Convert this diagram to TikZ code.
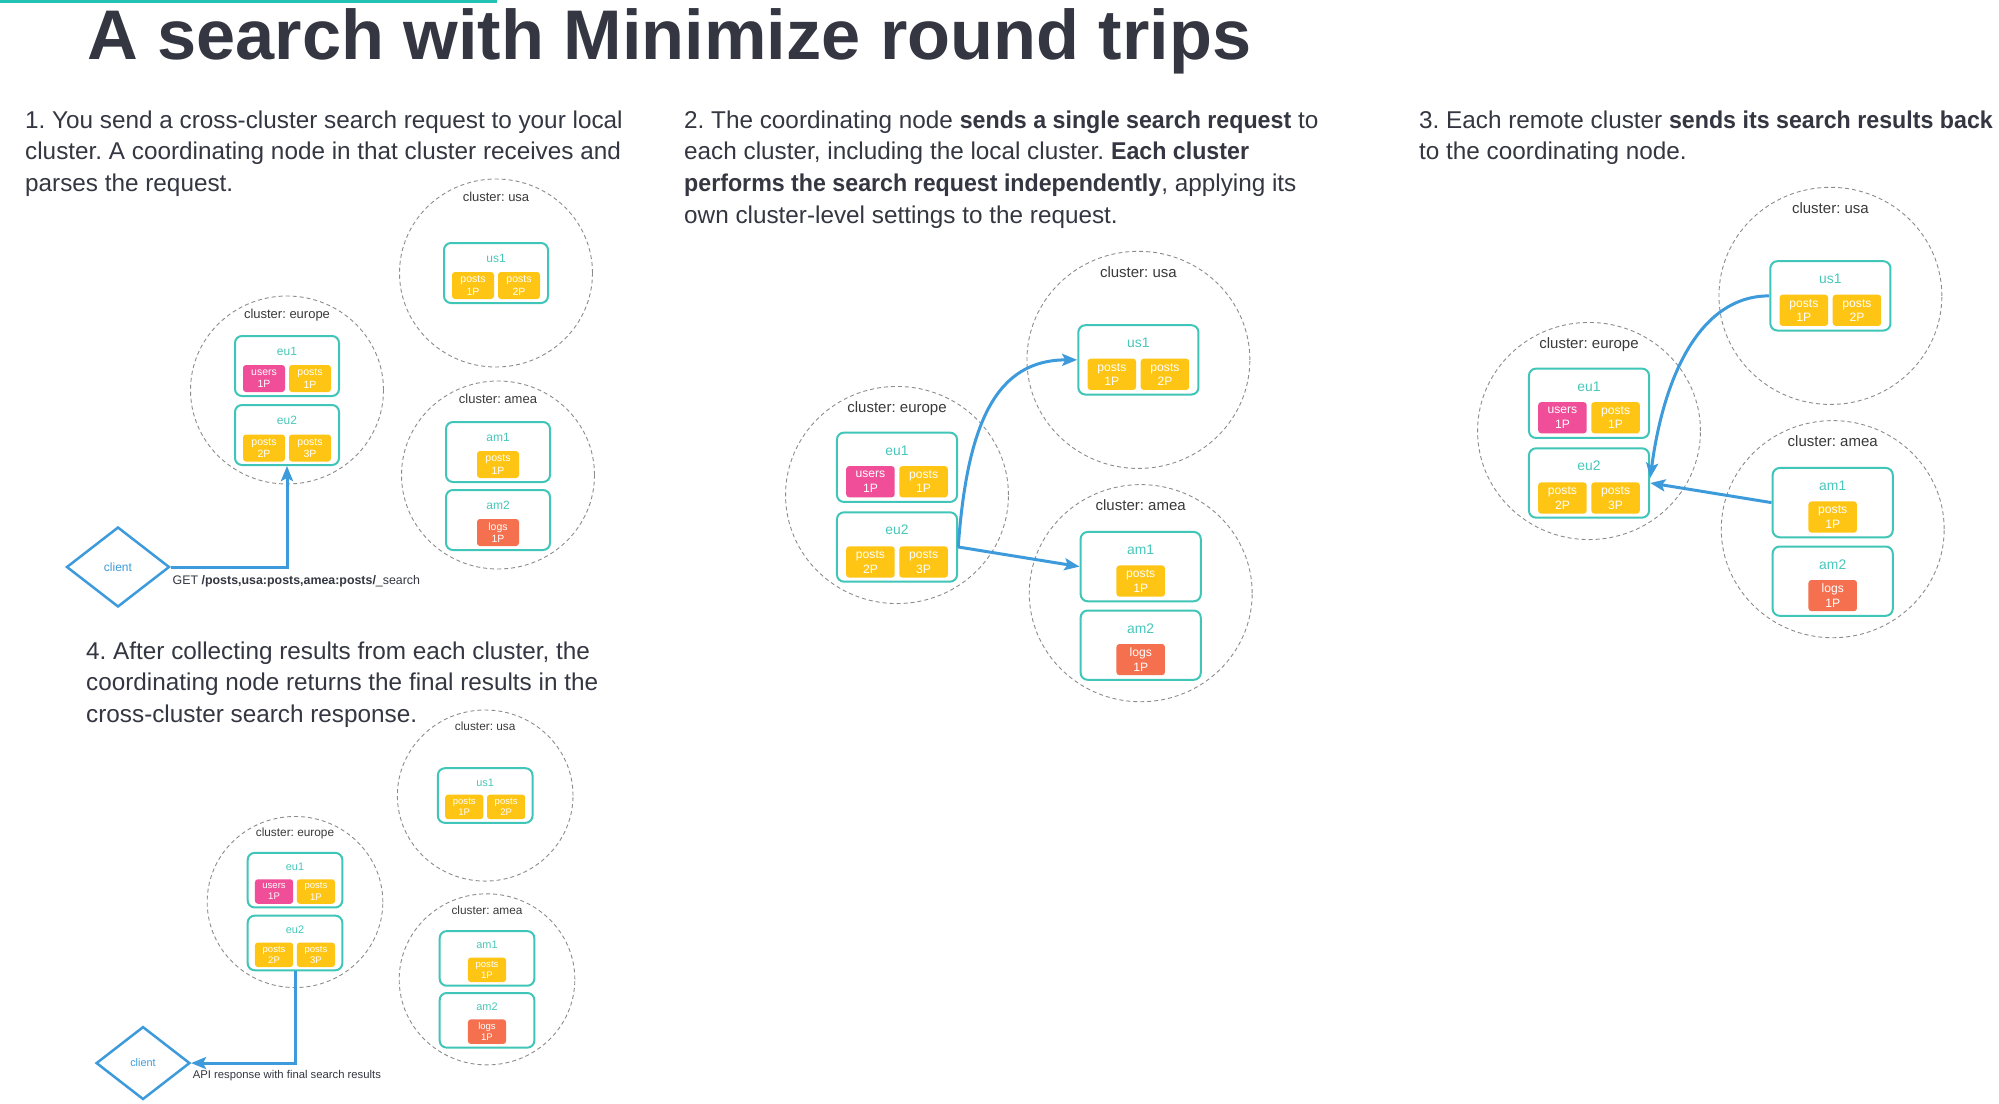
\documentclass[tikz,border=0pt]{standalone}
\usepackage{fontspec}
\usepackage{graphicx}
\setmainfont{Liberation Sans}
\usetikzlibrary{shapes.geometric,arrows.meta,calc}
\frenchspacing
\definecolor{ink}{HTML}{343741}
\definecolor{inklab}{HTML}{3A3A3A}
\definecolor{graydash}{HTML}{8C8C8C}
\definecolor{tealc}{HTML}{3FC6B8}
\definecolor{teallab}{HTML}{48C7BA}
\definecolor{topline}{HTML}{22C3B3}
\definecolor{yel}{HTML}{FEC514}
\definecolor{pinkc}{HTML}{F04E98}
\definecolor{logc}{HTML}{F4704F}
\definecolor{bluec}{HTML}{3D9BDC}
\newcommand{\bsq}[1]{\scalebox{0.955}[1]{\bfseries #1}}
\tikzset{
 bodytxt/.style={font=\fontsize{24.3}{29}\selectfont, text=ink, inner sep=0, anchor=base west},
 clcirc/.style={ellipse, draw=graydash, dash pattern=on 4pt off 3pt, line width=0.9pt, minimum width=193pt, minimum height=188pt, inner sep=0},
 cltitle/.style={font=\fontsize{13}{15}\selectfont, text=inklab, inner sep=0, text height=0.72em, text depth=0.22em},
 srv/.style={draw=tealc, line width=2pt, rounded corners=7pt, minimum width=104pt, minimum height=60pt, inner sep=0, fill=white},
 srvlab/.style={font=\fontsize{12}{14}\selectfont, text=teallab, inner sep=0, text height=0.72em, text depth=0.2em},
 shard/.style={rounded corners=3pt, minimum width=42pt, minimum height=27pt, inner sep=0, text=white, align=center, font=\fontsize{10.5}{12.5}\selectfont},
 client/.style={diamond, draw=bluec, line width=2.5pt, minimum width=103pt, minimum height=80pt, inner sep=0, text=bluec, font=\fontsize{12}{14}\selectfont},
 reqtxt/.style={font=\fontsize{12.4}{14}\selectfont, text=ink, inner sep=0, anchor=west},
 arr/.style={draw=bluec, line width=3pt, -{Stealth[length=15pt,width=12pt,inset=3pt]}},
}
\newcommand{\drawclusters}[1]{%
 \node[clcirc] (#1eur) at (0,0) {};
 \node[cltitle] (#1eurt) at (0,-74) {cluster: europe};
 \node[srv] (#1eu1) at (0,-24) {};
 \node[srvlab] (#1eu1l) at (0,-37) {eu1};
 \node[shard,fill=pinkc] (#1eu1a) at (-23,-11.5) {users\\1P};
 \node[shard,fill=yel] (#1eu1b) at (23,-11.5) {posts\\1P};
 \node[srv] (#1eu2) at (0,45) {};
 \node[srvlab] (#1eu2l) at (0,32) {eu2};
 \node[shard,fill=yel] (#1eu2a) at (-23,58) {posts\\2P};
 \node[shard,fill=yel] (#1eu2b) at (23,58) {posts\\3P};
 \node[clcirc] (#1usa) at (209,-117) {};
 \node[cltitle] (#1usat) at (209,-191) {cluster: usa};
 \node[srv] (#1us1) at (209,-117) {};
 \node[srvlab] (#1us1l) at (209,-130) {us1};
 \node[shard,fill=yel] (#1us1a) at (186,-104.5) {posts\\1P};
 \node[shard,fill=yel] (#1us1b) at (232,-104.5) {posts\\2P};
 \node[clcirc] (#1ame) at (211,85) {};
 \node[cltitle] (#1amet) at (211,11) {cluster: amea};
 \node[srv] (#1am1) at (211,62) {};
 \node[srvlab] (#1am1l) at (211,49) {am1};
 \node[shard,fill=yel] (#1am1a) at (211,74.5) {posts\\1P};
 \node[srv] (#1am2) at (211,130) {};
 \node[srvlab] (#1am2l) at (211,117) {am2};
 \node[shard,fill=logc] (#1am2a) at (211,142.5) {logs\\1P};
}
\begin{document}
\begin{tikzpicture}[x=1pt,y=-1pt]
\useasboundingbox (0,0) rectangle (1999,1103);
\fill[white] (0,0) rectangle (1999,1103);
\draw[topline, line width=3pt] (0,1.5) -- (497,1.5);
\node[font=\fontsize{70.3}{80}\selectfont\bfseries, text=ink, anchor=base west, inner sep=0] (title) at (87,59) {A search with Minimize round trips};
% step texts
\node[bodytxt] (s1a) at (25,128) {1. You send a cross-cluster search request to your local};
\node[bodytxt] (s1b) at (25,159.8) {cluster. A coordinating node in that cluster receives and};
\node[bodytxt] (s1c) at (25,191.6) {parses the request.};
\node[bodytxt] (s2a) at (684,128) {2. The coordinating node \bsq{sends a single search request} to};
\node[bodytxt] (s2b) at (684,159.8) {each cluster, including the local cluster. \bsq{Each cluster}};
\node[bodytxt] (s2c) at (684,191.6) {\bsq{performs the search request independently}, applying its};
\node[bodytxt] (s2d) at (684,223.4) {own cluster-level settings to the request.};
\node[bodytxt] (s3a) at (1419,128) {3. Each remote cluster \bsq{sends its search results back}};
\node[bodytxt] (s3b) at (1419,159.8) {to the coordinating node.};
\node[bodytxt] (s4a) at (86,659) {4. After collecting results from each cluster, the};
\node[bodytxt] (s4b) at (86,690.8) {coordinating node returns the final results in the};
\node[bodytxt] (s4c) at (86,722.6) {cross-cluster search response.};
% panel 1
\begin{scope}[shift={(287,390)}, scale=1, transform shape]
 \drawclusters{p1}
 \node[client] (p1client) at (-169,177) {client};
 \node[reqtxt] (p1req) at (-114.5,191) {GET {\bfseries /posts,usa:posts,amea:posts/}\_search};
\end{scope}
% panel 2
\begin{scope}[shift={(897,495)}, scale=1.155, transform shape]
 \drawclusters{p2}
\end{scope}
% panel 3
\begin{scope}[shift={(1589,431)}, scale=1.155, transform shape]
 \drawclusters{p3}
\end{scope}
% panel 4
\begin{scope}[shift={(295,902)}, scale=0.91, transform shape]
 \drawclusters{p4}
 \node[client] (p4client) at (-167,177) {client};
 \node[reqtxt] (p4req) at (-112.5,191) {API response with final search results};
\end{scope}
% connectors
\draw[arr] (p1client.east) -| (p1eu2.south);
\draw[arr] (p2eu2.east) .. controls +(9,-126) and +(-80,0) .. (p2us1.west);
\draw[arr] (p2eu2.east) -- (p2am1.west);
\draw[arr] (p3us1.west) .. controls +(-71,0) and +(13,-98) .. ($(p3eu2.east)+(0,-5)$);
\draw[arr] (p3am1.west) -- (p3eu2.east);
\draw[arr] (p4eu2.south) |- (p4client.east);
\end{tikzpicture}
\end{document}
